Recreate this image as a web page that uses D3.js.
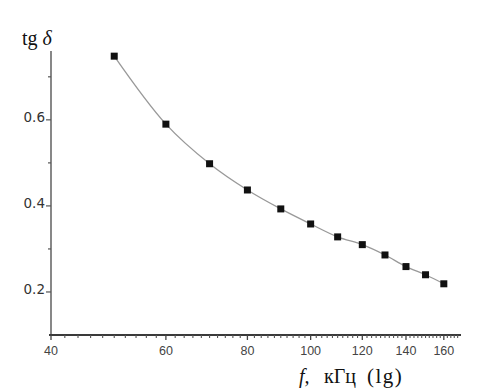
<!DOCTYPE html>
<html>
<head>
<meta charset="utf-8">
<script src="https://cdn.jsdelivr.net/npm/d3@7"></script>
<style>
  html, body { margin: 0; padding: 0; background: #fff; }
  svg { display: block; }
</style>
</head>
<body>
<svg id="chart" width="481" height="390"></svg>
<script>
// ---- data ----
const freqs = [50, 60, 70, 80, 90, 100, 110, 120, 130, 140, 150, 160];
const tanDelta = [0.748, 0.590, 0.498, 0.437, 0.393, 0.358, 0.328, 0.310, 0.286, 0.259, 0.240, 0.219];
const xMajorTicks = [40, 60, 80, 100, 120, 140, 160];
const yMajorTicks = [0.2, 0.4, 0.6];
const yMinorTicks = [0.3, 0.5, 0.7];
const yLabel = "tg ";
const yLabelSym = "δ";
const xLabelParts = ["f,", "кГц", "(lg)"];

// ---- layout ----
const svg = d3.select("#chart");
const x = d3.scaleLog().domain([40, 170]).range([51, 461]);
const y = d3.scaleLinear().domain([0.1, 0.76]).range([335, 51]);

const xMinorTicks = d3.range(42, 170, 2).filter(v => v % 20 !== 0);

// Y axis line
svg.append("line")
  .attr("x1", x(40)).attr("x2", x(40))
  .attr("y1", y(0.76)).attr("y2", y(0.1))
  .attr("stroke", "#6a6a6a").attr("stroke-width", 1.6);

// Y ticks
svg.selectAll("line.ymaj").data(yMajorTicks).join("line")
  .attr("class", "ymaj")
  .attr("x1", x(40) - 5).attr("x2", x(40))
  .attr("y1", d => y(d)).attr("y2", d => y(d))
  .attr("stroke", "#555").attr("stroke-width", 1.2);
svg.selectAll("line.ymin").data(yMinorTicks).join("line")
  .attr("class", "ymin")
  .attr("x1", x(40) - 3).attr("x2", x(40))
  .attr("y1", d => y(d)).attr("y2", d => y(d))
  .attr("stroke", "#555").attr("stroke-width", 1.2);
svg.selectAll("text.ylab").data(yMajorTicks).join("text")
  .attr("class", "ylab")
  .attr("x", x(40) - 6).attr("y", d => y(d))
  .attr("dy", "0.18em")
  .attr("text-anchor", "end")
  .attr("font-family", "DejaVu Sans, sans-serif")
  .attr("font-size", 13.5)
  .attr("fill", "#333")
  .text(d => d.toFixed(1));

// X axis line
svg.append("line")
  .attr("x1", x(40) - 2).attr("x2", x(170))
  .attr("y1", y(0.1)).attr("y2", y(0.1))
  .attr("stroke", "#3a3a3a").attr("stroke-width", 1.8);

// X ticks
svg.selectAll("line.xmaj").data(xMajorTicks).join("line")
  .attr("class", "xmaj")
  .attr("x1", d => x(d)).attr("x2", d => x(d))
  .attr("y1", y(0.1)).attr("y2", y(0.1) + 5)
  .attr("stroke", "#444").attr("stroke-width", 1.3);
svg.selectAll("line.xmin").data(xMinorTicks).join("line")
  .attr("class", "xmin")
  .attr("x1", d => x(d)).attr("x2", d => x(d))
  .attr("y1", y(0.1)).attr("y2", y(0.1) + 3)
  .attr("stroke", "#555").attr("stroke-width", 1.1);
svg.selectAll("text.xlab").data(xMajorTicks).join("text")
  .attr("class", "xlab")
  .attr("x", d => x(d)).attr("y", y(0.1) + 20)
  .attr("text-anchor", "middle")
  .attr("font-family", "Liberation Sans, Arial, sans-serif")
  .attr("font-size", 12.5)
  .attr("fill", "#444")
  .text(d => d);

// Curve
const line = d3.line()
  .x((d, i) => x(freqs[i]))
  .y(d => y(d))
  .curve(d3.curveCatmullRom.alpha(0.5));
svg.append("path")
  .datum(tanDelta)
  .attr("d", line)
  .attr("fill", "none")
  .attr("stroke", "#999")
  .attr("stroke-width", 1.3);

// Markers
const ms = 7;
svg.selectAll("rect.pt").data(tanDelta).join("rect")
  .attr("class", "pt")
  .attr("x", (d, i) => x(freqs[i]) - ms / 2)
  .attr("y", d => y(d) - ms / 2)
  .attr("width", ms).attr("height", ms)
  .attr("fill", "#111");

// Y label
const yl = svg.append("text")
  .attr("x", 22).attr("y", 45)
  .attr("font-family", "Liberation Serif, Times New Roman, serif")
  .attr("font-size", 20)
  .attr("fill", "#111");
yl.append("tspan").text(yLabel);
yl.append("tspan").attr("font-style", "italic").text(yLabelSym);

// X label
const xlFont = "Liberation Serif, Times New Roman, serif";
svg.append("text").attr("x", 299).attr("y", 383)
  .attr("font-family", xlFont).attr("font-size", 20).attr("fill", "#111")
  .attr("font-style", "italic").text(xLabelParts[0]);
svg.append("text").attr("x", 324).attr("y", 383)
  .attr("font-family", xlFont).attr("font-size", 20).attr("fill", "#111")
  .text(xLabelParts[1]);
svg.append("text").attr("x", 367).attr("y", 383)
  .attr("font-family", xlFont).attr("font-size", 21).attr("fill", "#111")
  .attr("letter-spacing", 1.5)
  .text(xLabelParts[2]);
</script>
</body>
</html>
